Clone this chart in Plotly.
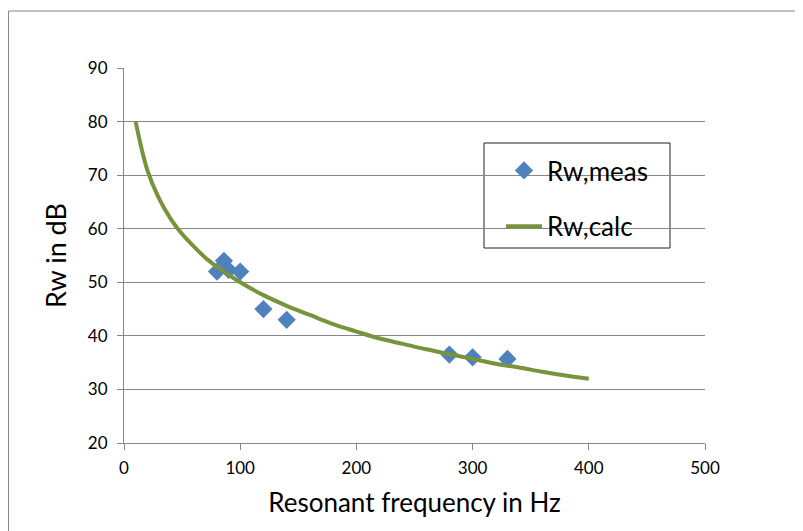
import plotly.graph_objects as go

# measured values
meas_f = [80, 86, 90, 100, 120, 140, 280, 300, 330]
meas_rw = [52, 54, 52.3, 52, 45, 43, 36.5, 36, 35.7]

# calculated curve
calc_f = [10, 20, 30, 40, 50, 60, 70, 80, 90, 100, 120, 140, 160, 180, 200,
          220, 240, 260, 280, 300, 320, 340, 360, 380, 400]
calc_rw = [80, 71.0, 65.7, 61.9, 59.0, 56.7, 54.6, 52.9, 51.4, 50.0, 47.6, 45.6,
           43.9, 42.2, 40.8, 39.5, 38.5, 37.5, 36.6, 35.7, 34.8, 34.1, 33.3, 32.6, 32.0]

FONT = "Lato"
L, T, W, H = 116, 60, 581, 375

def px(xf):
    return (xf - L) / W

def py(yf):
    return 1 - (yf - T) / H

fig = go.Figure()
fig.add_trace(go.Scatter(
    x=meas_f, y=meas_rw, mode="markers", name="Rw,meas",
    marker=dict(symbol="diamond", size=14, color="#4F81BD"),
    legendgroup="a",
))
fig.add_trace(go.Scatter(
    x=calc_f, y=calc_rw, mode="lines", name="Rw,calc",
    line=dict(color="#77933C", width=4, shape="spline"),
    legendgroup="b",
))

ax_common = dict(
    showline=True, linecolor="#868686", linewidth=1,
    ticks="outside", ticklen=6, tickcolor="#868686",
    tickfont=dict(family=FONT, size=17, color="#000"),
    zeroline=False,
)
fig.update_xaxes(range=[0, 500], dtick=100, showgrid=False, ticklabelstandoff=4,
                 title=dict(text="Resonant frequency in Hz", font=dict(family=FONT, size=26, color="#000"), standoff=16),
                 **ax_common)
fig.update_yaxes(range=[20, 90], dtick=10, showgrid=True, gridcolor="#868686", gridwidth=1,
                 ticklabelstandoff=6,
                 title=dict(text="Rw in dB", font=dict(family=FONT, size=27, color="#000"), standoff=13),
                 **ax_common)

fig.update_layout(
    width=803, height=531,
    margin=dict(l=L, r=803 - L - W, t=T, b=531 - T - H),
    paper_bgcolor="white", plot_bgcolor="white",
    font=dict(family=FONT),
    legend=dict(
        x=px(493), y=py(139), xanchor="left", yanchor="top",
        borderwidth=0, bgcolor="rgba(0,0,0,0)",
        font=dict(family=FONT, size=26, color="#000"),
        traceorder="grouped", tracegroupgap=19,
        itemwidth=36,
    ),
    shapes=[
        dict(type="rect", xref="paper", yref="paper",
             x0=px(0.5), x1=px(815), y0=py(545), y1=py(3),
             line=dict(color="#868686", width=1), layer="below"),
        dict(type="rect", xref="paper", yref="paper",
             x0=px(476), x1=px(662), y0=py(240), y1=py(135),
             line=dict(color="#222", width=1), fillcolor="white", layer="below"),
    ],
)

fig.write_html("out.html")
